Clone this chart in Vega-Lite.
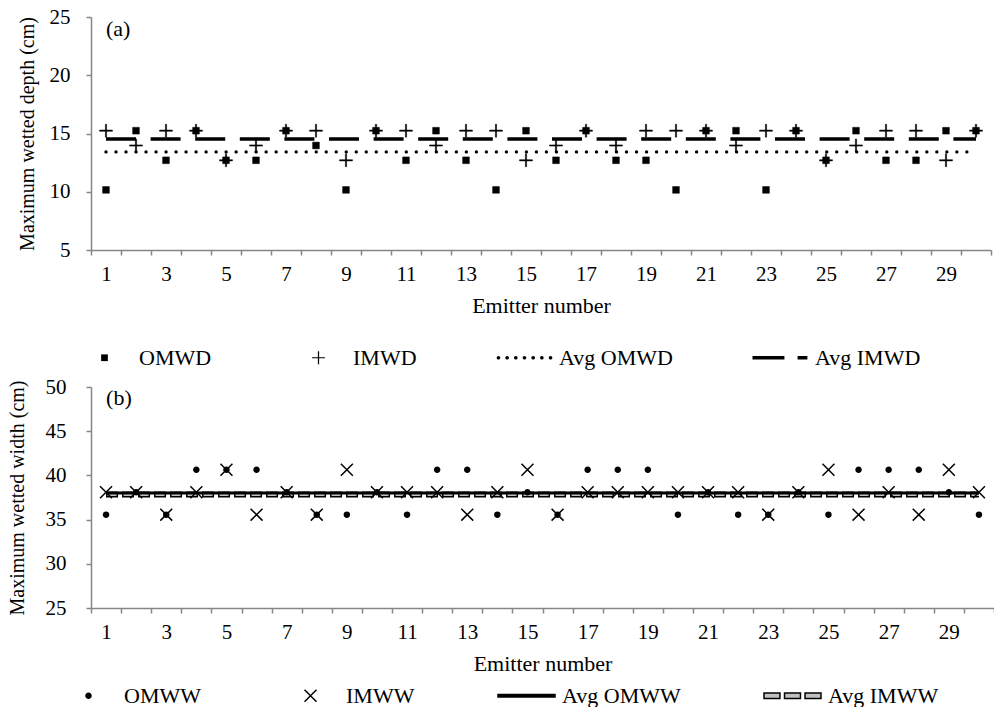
{
  "$schema": "https://vega.github.io/schema/vega-lite/v6.json",
  "background": "white",
  "padding": {"left": 6, "top": 6, "right": 0, "bottom": 0},
  "bounds": "flush",
  "spacing": 137,
  "resolve": {"scale": {"shape": "independent", "color": "independent"}, "legend": {"shape": "independent", "color": "independent"}},
  "config": {
    "font": "Liberation Serif",
    "view": {"stroke": null},
    "axis": {
      "domainColor": "#868686", "tickColor": "#868686", "domainWidth": 1.5, "tickWidth": 1.5,
      "grid": false, "tickSize": 5,
      "labelFont": "Liberation Serif", "labelFontSize": 21, "labelColor": "black",
      "titleFont": "Liberation Serif", "titleFontWeight": "normal", "titleColor": "black"
    }
  },
  "datasets": {
    "depth": [
      {"emitter": 1, "OMWD": 10.16, "IMWD": 15.24},
      {"emitter": 2, "OMWD": 15.24, "IMWD": 13.97},
      {"emitter": 3, "OMWD": 12.7, "IMWD": 15.24},
      {"emitter": 4, "OMWD": 15.24, "IMWD": 15.24},
      {"emitter": 5, "OMWD": 12.7, "IMWD": 12.7},
      {"emitter": 6, "OMWD": 12.7, "IMWD": 13.97},
      {"emitter": 7, "OMWD": 15.24, "IMWD": 15.24},
      {"emitter": 8, "OMWD": 13.97, "IMWD": 15.24},
      {"emitter": 9, "OMWD": 10.16, "IMWD": 12.7},
      {"emitter": 10, "OMWD": 15.24, "IMWD": 15.24},
      {"emitter": 11, "OMWD": 12.7, "IMWD": 15.24},
      {"emitter": 12, "OMWD": 15.24, "IMWD": 13.97},
      {"emitter": 13, "OMWD": 12.7, "IMWD": 15.24},
      {"emitter": 14, "OMWD": 10.16, "IMWD": 15.24},
      {"emitter": 15, "OMWD": 15.24, "IMWD": 12.7},
      {"emitter": 16, "OMWD": 12.7, "IMWD": 13.97},
      {"emitter": 17, "OMWD": 15.24, "IMWD": 15.24},
      {"emitter": 18, "OMWD": 12.7, "IMWD": 13.97},
      {"emitter": 19, "OMWD": 12.7, "IMWD": 15.24},
      {"emitter": 20, "OMWD": 10.16, "IMWD": 15.24},
      {"emitter": 21, "OMWD": 15.24, "IMWD": 15.24},
      {"emitter": 22, "OMWD": 15.24, "IMWD": 13.97},
      {"emitter": 23, "OMWD": 10.16, "IMWD": 15.24},
      {"emitter": 24, "OMWD": 15.24, "IMWD": 15.24},
      {"emitter": 25, "OMWD": 12.7, "IMWD": 12.7},
      {"emitter": 26, "OMWD": 15.24, "IMWD": 13.97},
      {"emitter": 27, "OMWD": 12.7, "IMWD": 15.24},
      {"emitter": 28, "OMWD": 12.7, "IMWD": 15.24},
      {"emitter": 29, "OMWD": 15.24, "IMWD": 12.7},
      {"emitter": 30, "OMWD": 15.24, "IMWD": 15.24}
    ],
    "width": [
      {"emitter": 1, "OMWW": 35.56, "IMWW": 38.1},
      {"emitter": 2, "OMWW": 38.1, "IMWW": 38.1},
      {"emitter": 3, "OMWW": 35.56, "IMWW": 35.56},
      {"emitter": 4, "OMWW": 40.64, "IMWW": 38.1},
      {"emitter": 5, "OMWW": 40.64, "IMWW": 40.64},
      {"emitter": 6, "OMWW": 40.64, "IMWW": 35.56},
      {"emitter": 7, "OMWW": 38.1, "IMWW": 38.1},
      {"emitter": 8, "OMWW": 35.56, "IMWW": 35.56},
      {"emitter": 9, "OMWW": 35.56, "IMWW": 40.64},
      {"emitter": 10, "OMWW": 38.1, "IMWW": 38.1},
      {"emitter": 11, "OMWW": 35.56, "IMWW": 38.1},
      {"emitter": 12, "OMWW": 40.64, "IMWW": 38.1},
      {"emitter": 13, "OMWW": 40.64, "IMWW": 35.56},
      {"emitter": 14, "OMWW": 35.56, "IMWW": 38.1},
      {"emitter": 15, "OMWW": 38.1, "IMWW": 40.64},
      {"emitter": 16, "OMWW": 35.56, "IMWW": 35.56},
      {"emitter": 17, "OMWW": 40.64, "IMWW": 38.1},
      {"emitter": 18, "OMWW": 40.64, "IMWW": 38.1},
      {"emitter": 19, "OMWW": 40.64, "IMWW": 38.1},
      {"emitter": 20, "OMWW": 35.56, "IMWW": 38.1},
      {"emitter": 21, "OMWW": 38.1, "IMWW": 38.1},
      {"emitter": 22, "OMWW": 35.56, "IMWW": 38.1},
      {"emitter": 23, "OMWW": 35.56, "IMWW": 35.56},
      {"emitter": 24, "OMWW": 38.1, "IMWW": 38.1},
      {"emitter": 25, "OMWW": 35.56, "IMWW": 40.64},
      {"emitter": 26, "OMWW": 40.64, "IMWW": 35.56},
      {"emitter": 27, "OMWW": 40.64, "IMWW": 38.1},
      {"emitter": 28, "OMWW": 40.64, "IMWW": 35.56},
      {"emitter": 29, "OMWW": 38.1, "IMWW": 40.64},
      {"emitter": 30, "OMWW": 35.56, "IMWW": 38.1}
    ],
    "depthAvg": [
      {"emitter": 1, "series": "Avg OMWD", "value": 13.42},
      {"emitter": 30, "series": "Avg OMWD", "value": 13.42},
      {"emitter": 1, "series": "Avg IMWD", "value": 14.52},
      {"emitter": 30, "series": "Avg IMWD", "value": 14.52}
    ],
    "widthAvg": [
      {"emitter": 1, "series": "Avg OMWW", "value": 38.02},
      {"emitter": 30, "series": "Avg OMWW", "value": 38.02},
      {"emitter": 1, "series": "Avg IMWW", "value": 37.85},
      {"emitter": 30, "series": "Avg IMWW", "value": 37.85}
    ],
    "panelA": [{"label": "(a)"}],
    "panelB": [{"label": "(b)"}]
  },
  "vconcat": [
    {
      "width": 900,
      "height": 233,
      "layer": [
        {
          "data": {"name": "depth"},
          "transform": [{"fold": ["OMWD", "IMWD"], "as": ["series", "value"]}],
          "mark": {"type": "point", "filled": true, "fill": "black", "stroke": "black", "strokeWidth": 0.5, "size": 3136, "opacity": 1},
          "encoding": {
            "x": {
              "field": "emitter", "type": "ordinal",
              "scale": {"type": "band", "paddingInner": 0, "paddingOuter": 0},
              "axis": {"title": "Emitter number", "labelAngle": 0, "labelExpr": "datum.value % 2 == 1 ? datum.label : ''", "tickBand": "extent", "labelPadding": 8, "titlePadding": 11, "titleFontSize": 22, "labelOverlap": false}
            },
            "y": {
              "field": "value", "type": "quantitative",
              "scale": {"domain": [5, 25], "nice": false, "zero": false},
              "axis": {"values": [5, 10, 15, 20, 25], "title": "Maximum wetted depth (cm)", "titleFontSize": 20, "labelPadding": 16, "titlePadding": 12}
            },
            "shape": {
              "field": "series", "type": "nominal",
              "scale": {
                "domain": ["OMWD", "IMWD", "Avg OMWD", "Avg IMWD"],
                "range": [
                  "M-0.12,-0.12H0.12V0.12H-0.12Z",
                  "M-0.23,-0.022H0.23V0.022H-0.23ZM-0.022,-0.23H0.022V0.23H-0.022Z",
                  "M-0.995,0a0.065,0.065 0 1,0 0.13,0a0.065,0.065 0 1,0 -0.13,0ZM-0.685,0a0.065,0.065 0 1,0 0.13,0a0.065,0.065 0 1,0 -0.13,0ZM-0.375,0a0.065,0.065 0 1,0 0.13,0a0.065,0.065 0 1,0 -0.13,0ZM-0.065,0a0.065,0.065 0 1,0 0.13,0a0.065,0.065 0 1,0 -0.13,0ZM0.245,0a0.065,0.065 0 1,0 0.13,0a0.065,0.065 0 1,0 -0.13,0ZM0.555,0a0.065,0.065 0 1,0 0.13,0a0.065,0.065 0 1,0 -0.13,0ZM0.865,0a0.065,0.065 0 1,0 0.13,0a0.065,0.065 0 1,0 -0.13,0Z",
                  "M-1,-0.06H0.14V0.06H-1ZM0.61,-0.06H0.96V0.06H0.61Z"
                ]
              },
              "legend": {"title": null, "orient": "none", "legendX": -15, "legendY": 312, "direction": "horizontal", "columnPadding": 78, "labelOffset": 6, "symbolSize": 3136, "labelFontSize": 22, "labelFont": "Liberation Serif", "labelColor": "black", "symbolStrokeWidth": 0.5, "symbolStrokeColor": "black", "symbolFillColor": "black", "padding": 0,
                "encode": {"symbols": {"update": {"stroke": {"value": "black"}, "strokeWidth": {"value": 0.5}, "fill": {"value": "black"}, "opacity": {"value": 1}}}}}
            }
          }
        },
        {
          "data": {"name": "depthAvg"},
          "transform": [{"filter": "datum.series == 'Avg OMWD'"}],
          "mark": {"type": "line", "color": "black", "strokeWidth": 3.4, "strokeDash": [0.01, 10], "strokeCap": "round"},
          "encoding": {
            "x": {"field": "emitter", "type": "ordinal"},
            "y": {"field": "value", "type": "quantitative"}
          }
        },
        {
          "data": {"name": "depthAvg"},
          "transform": [{"filter": "datum.series == 'Avg IMWD'"}],
          "mark": {"type": "line", "color": "black", "strokeWidth": 3.5, "strokeDash": [30, 14.6], "strokeCap": "butt"},
          "encoding": {
            "x": {"field": "emitter", "type": "ordinal"},
            "y": {"field": "value", "type": "quantitative"}
          }
        },
        {
          "data": {"name": "panelA"},
          "mark": {"type": "text", "align": "left", "baseline": "middle", "fontSize": 22, "font": "Liberation Serif", "color": "black"},
          "encoding": {
            "text": {"field": "label"},
            "x": {"datum": 1, "type": "ordinal"},
            "y": {"datum": 24, "type": "quantitative"}
          }
        }
      ]
    },
    {
      "width": 903,
      "height": 221,
      "layer": [
        {
          "data": {"name": "widthAvg"},
          "transform": [{"filter": "datum.series == 'Avg IMWW'"}],
          "mark": {"type": "line", "color": "black", "strokeWidth": 6, "strokeDash": [12, 4], "strokeCap": "butt"},
          "encoding": {
            "x": {
              "field": "emitter", "type": "ordinal",
              "scale": {"type": "band", "paddingInner": 0, "paddingOuter": 0},
              "axis": {"title": "Emitter number", "labelAngle": 0, "labelExpr": "datum.value % 2 == 1 ? datum.label : ''", "tickBand": "extent", "labelPadding": 8, "titlePadding": 11, "titleFontSize": 22, "labelOverlap": false}
            },
            "y": {
              "field": "value", "type": "quantitative",
              "scale": {"domain": [25, 50], "nice": false, "zero": false},
              "axis": {"values": [25, 30, 35, 40, 45, 50], "title": "Maximum wetted width (cm)", "titleFontSize": 20, "labelPadding": 20, "titlePadding": 18}
            }
          }
        },
        {
          "data": {"name": "widthAvg"},
          "transform": [{"filter": "datum.series == 'Avg IMWW'"}],
          "mark": {"type": "line", "color": "#c0c0c0", "strokeWidth": 3, "strokeDash": [9, 7], "strokeDashOffset": -1.5, "strokeCap": "butt"},
          "encoding": {
            "x": {"field": "emitter", "type": "ordinal"},
            "y": {"field": "value", "type": "quantitative"}
          }
        },
        {
          "data": {"name": "widthAvg"},
          "transform": [{"filter": "datum.series == 'Avg OMWW'"}],
          "mark": {"type": "line", "color": "black", "strokeWidth": 3},
          "encoding": {
            "x": {"field": "emitter", "type": "ordinal"},
            "y": {"field": "value", "type": "quantitative"}
          }
        },
        {
          "data": {"name": "width"},
          "transform": [{"fold": ["OMWW", "IMWW"], "as": ["series", "value"]}],
          "mark": {"type": "point", "filled": true, "stroke": "black", "strokeWidth": 1.5, "size": 3249, "opacity": 1},
          "encoding": {
            "x": {"field": "emitter", "type": "ordinal"},
            "y": {"field": "value", "type": "quantitative"},
            "color": {
              "field": "series", "type": "nominal",
              "scale": {"domain": ["OMWW", "IMWW", "Avg OMWW", "Avg IMWW"], "range": ["black", "black", "black", "#c0c0c0"]},
              "legend": {"title": null, "orient": "none", "legendX": -32, "legendY": 279, "direction": "horizontal", "columnPadding": 80, "labelOffset": 6, "symbolSize": 3249, "labelFontSize": 22, "labelFont": "Liberation Serif", "labelColor": "black", "padding": 0,
                "encode": {"symbols": {"update": {"stroke": {"value": "black"}, "strokeWidth": {"value": 1.5}, "opacity": {"value": 1}}}}}
            },
            "shape": {
              "field": "series", "type": "nominal",
              "scale": {
                "domain": ["OMWW", "IMWW", "Avg OMWW", "Avg IMWW"],
                "range": [
                  "M-0.088,0a0.088,0.088 0 1,0 0.176,0a0.088,0.088 0 1,0 -0.176,0Z",
                  "M-0.21,-0.21L0.21,0.21M-0.21,0.21L0.21,-0.21",
                  "M-1,-0.044H1V0.044H-1Z",
                  "M-1,-0.1H-0.44V0.1H-1ZM-0.28,-0.1H0.28V0.1H-0.28ZM0.44,-0.1H1V0.1H0.44Z"
                ]
              },
              "legend": {"title": null, "orient": "none", "legendX": -32, "legendY": 279, "direction": "horizontal", "columnPadding": 80, "labelOffset": 6, "symbolSize": 3249, "labelFontSize": 22, "labelFont": "Liberation Serif", "labelColor": "black", "padding": 0,
                "encode": {"symbols": {"update": {"stroke": {"value": "black"}, "strokeWidth": {"value": 1.5}, "opacity": {"value": 1}}}}}
            }
          }
        },
        {
          "data": {"name": "panelB"},
          "mark": {"type": "text", "align": "left", "baseline": "middle", "fontSize": 22, "font": "Liberation Serif", "color": "black"},
          "encoding": {
            "text": {"field": "label"},
            "x": {"datum": 1, "type": "ordinal"},
            "y": {"datum": 48.7, "type": "quantitative"}
          }
        }
      ]
    }
  ]
}
